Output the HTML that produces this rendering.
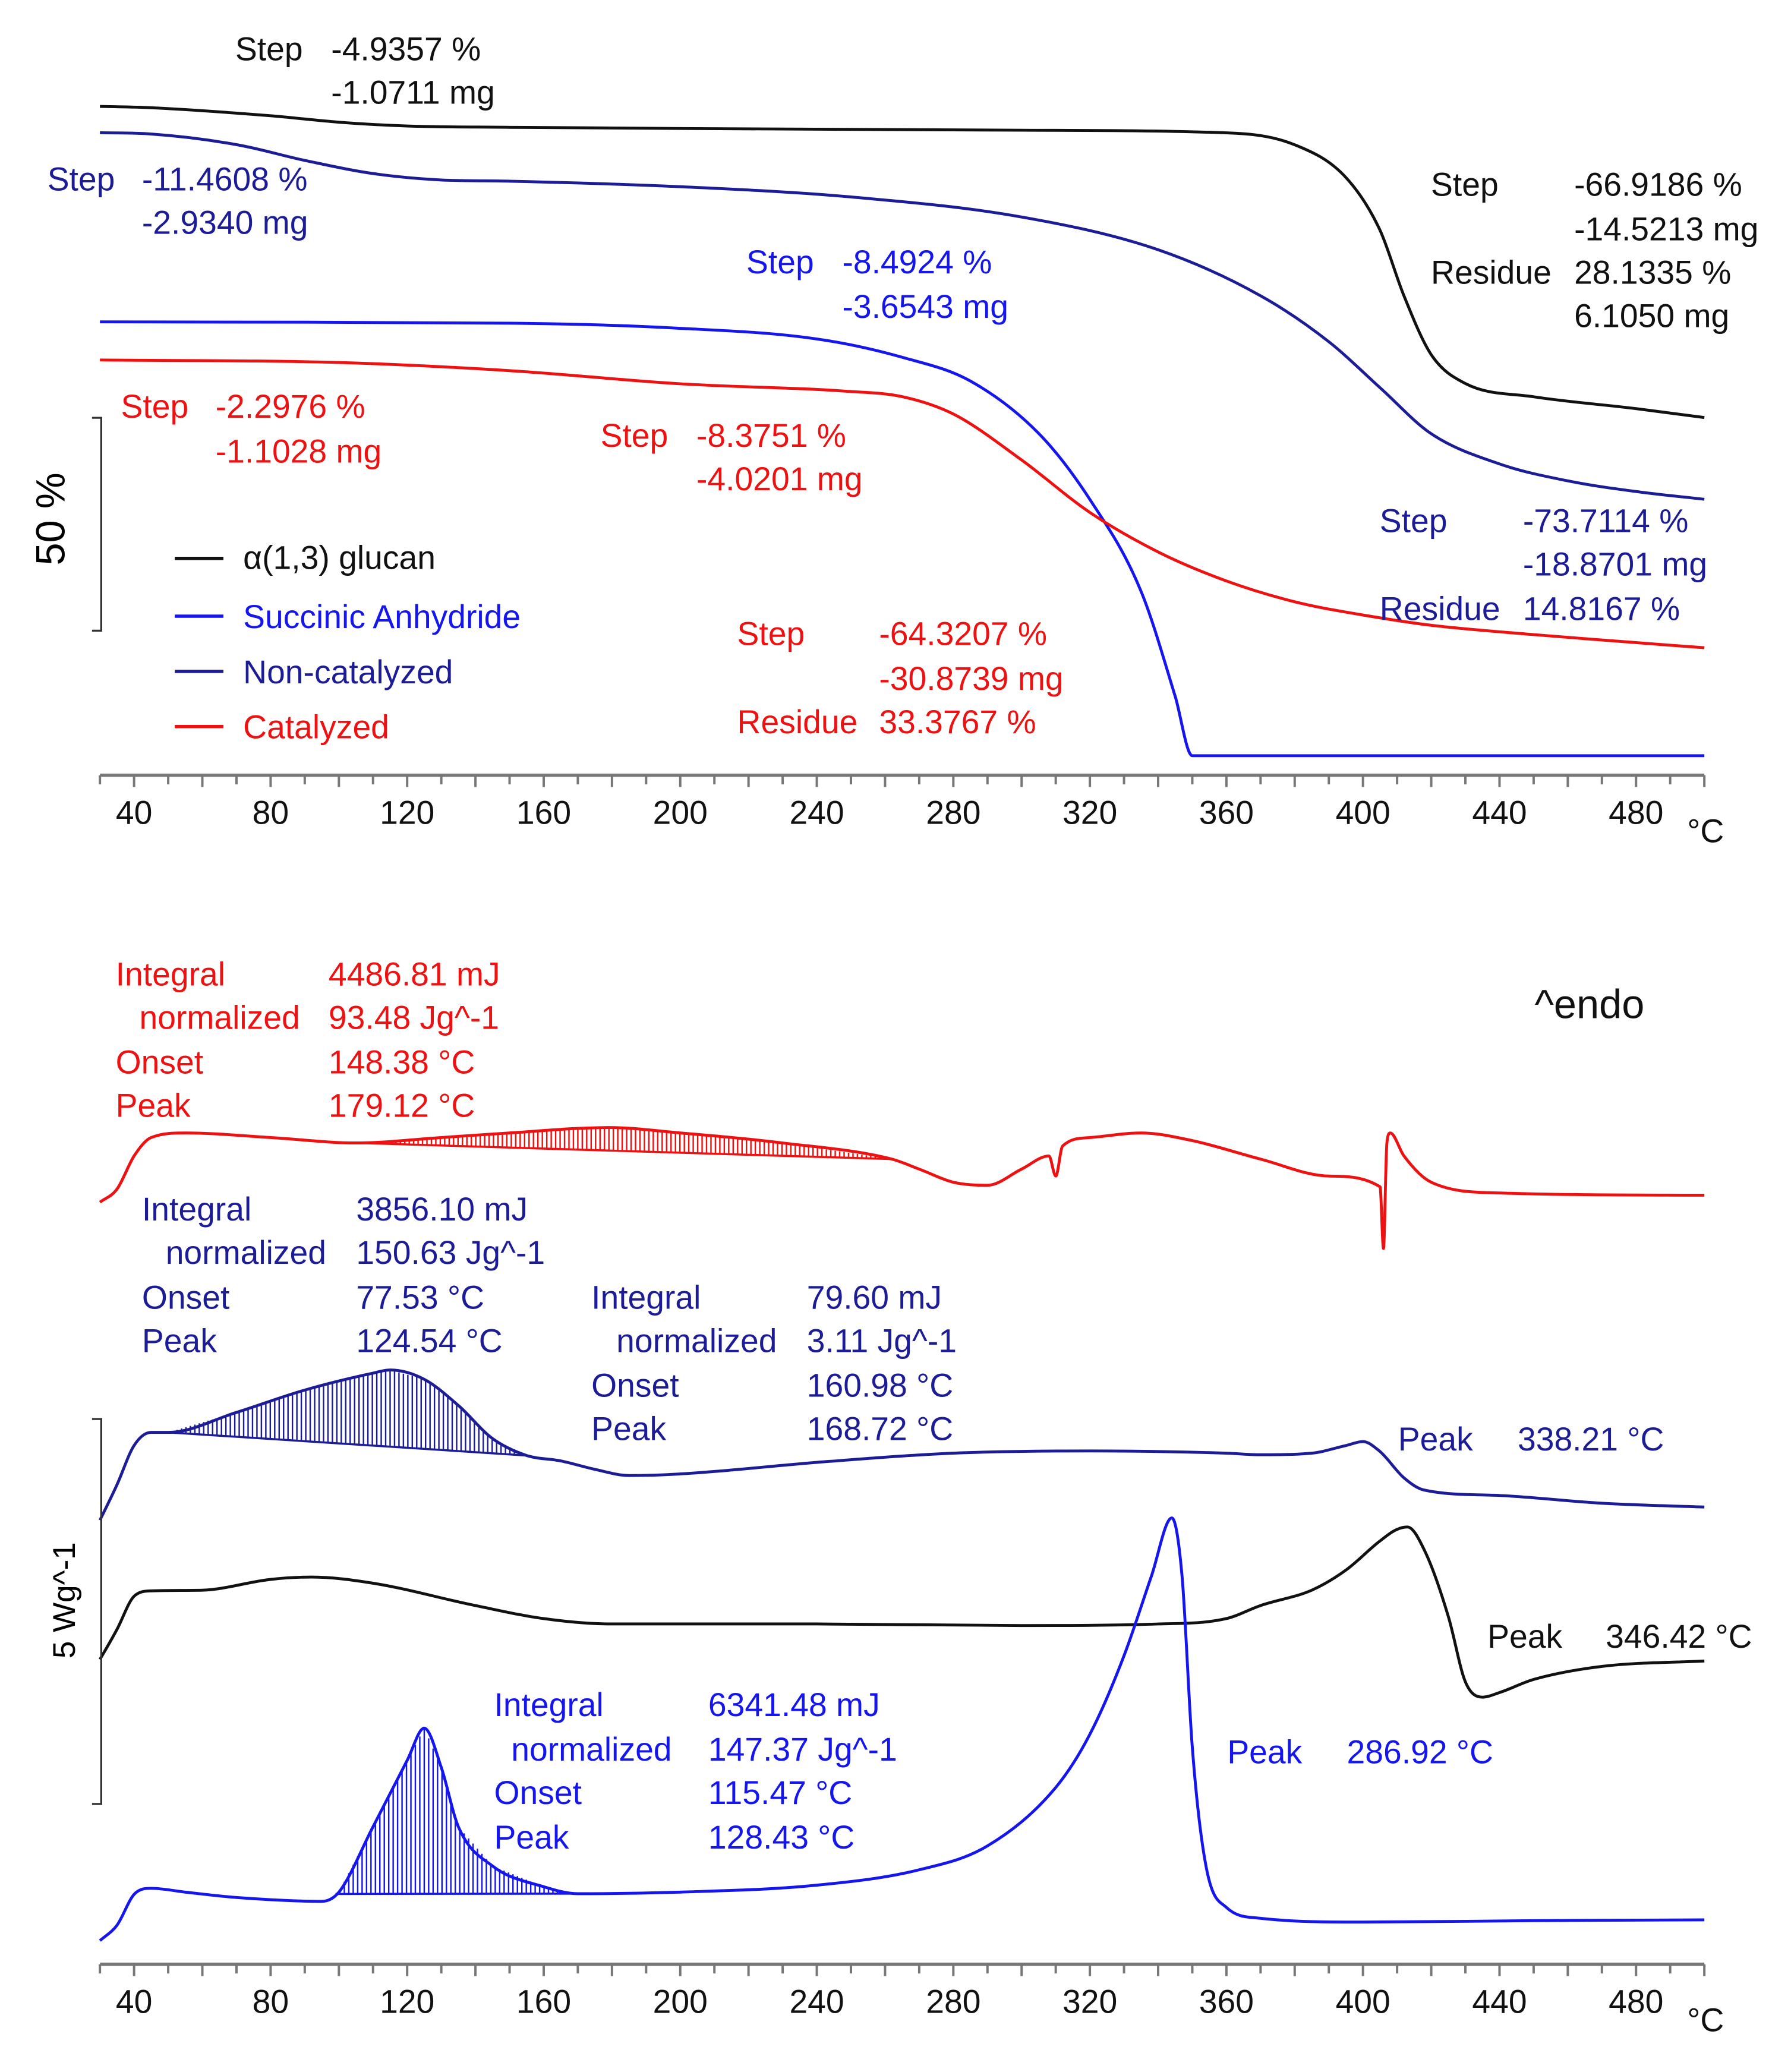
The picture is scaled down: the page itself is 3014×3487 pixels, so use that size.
<!DOCTYPE html>
<html><head><meta charset="utf-8"><style>
html,body{margin:0;padding:0;background:#fff}
svg{display:block}
text{font-family:"Liberation Sans",sans-serif;font-size:25px}
</style></head><body>
<svg id="chart" width="3014" height="3487" viewBox="0 0 1363 1577" xmlns="http://www.w3.org/2000/svg">
<g id="tga"></g>
<g id="dsc"></g>
<g id="labels">
<g fill="#111"><text x="179" y="46">Step</text><text x="252" y="46">-4.9357 %</text><text x="252" y="79">-1.0711 mg</text></g>
<g fill="#1c1c96"><text x="36" y="145">Step</text><text x="108" y="145">-11.4608 %</text><text x="108" y="178">-2.9340 mg</text></g>
<g fill="#111"><text x="1089" y="149">Step</text><text x="1198" y="149">-66.9186 %</text><text x="1198" y="183">-14.5213 mg</text><text x="1089" y="216">Residue</text><text x="1198" y="216">28.1335 %</text><text x="1198" y="249">6.1050 mg</text></g>
<g fill="#1515ee"><text x="568" y="208">Step</text><text x="641" y="208">-8.4924 %</text><text x="641" y="242">-3.6543 mg</text></g>
<g fill="#ee1111"><text x="92" y="318">Step</text><text x="164" y="318">-2.2976 %</text><text x="164" y="352">-1.1028 mg</text></g>
<g fill="#ee1111"><text x="457" y="340">Step</text><text x="530" y="340">-8.3751 %</text><text x="530" y="373">-4.0201 mg</text></g>
<g fill="#1c1c96"><text x="1050" y="405">Step</text><text x="1159" y="405">-73.7114 %</text><text x="1159" y="438">-18.8701 mg</text><text x="1050" y="472">Residue</text><text x="1159" y="472">14.8167 %</text></g>
<g fill="#ee1111"><text x="561" y="491">Step</text><text x="669" y="491">-64.3207 %</text><text x="669" y="525">-30.8739 mg</text><text x="561" y="558">Residue</text><text x="669" y="558">33.3767 %</text></g>
<g>
<line x1="133" y1="425" x2="170" y2="425" stroke="#111" stroke-width="2.5"/><text x="185" y="433" fill="#111">α(1,3) glucan</text>
<line x1="133" y1="469" x2="170" y2="469" stroke="#1515ee" stroke-width="2.5"/><text x="185" y="478" fill="#1515ee">Succinic Anhydride</text>
<line x1="133" y1="511" x2="170" y2="511" stroke="#1c1c96" stroke-width="2.5"/><text x="185" y="520" fill="#1c1c96">Non-catalyzed</text>
<line x1="133" y1="553" x2="170" y2="553" stroke="#ee1111" stroke-width="2.5"/><text x="185" y="562" fill="#ee1111">Catalyzed</text>
</g>
<text transform="translate(49,395) rotate(-90)" text-anchor="middle" style="font-size:31px">50 %</text>
<path d="M70,318 H77 V480 H70" fill="none" stroke="#333" stroke-width="1.5"/>
<g fill="#ee1111"><text x="88" y="750">Integral</text><text x="250" y="750">4486.81 mJ</text><text x="106" y="783">normalized</text><text x="250" y="783">93.48 Jg^-1</text><text x="88" y="817">Onset</text><text x="250" y="817">148.38 °C</text><text x="88" y="850">Peak</text><text x="250" y="850">179.12 °C</text></g>
<text x="1168" y="775" fill="#111" style="font-size:31px">^endo</text>
<g fill="#1c1c96"><text x="108" y="929">Integral</text><text x="271" y="929">3856.10 mJ</text><text x="126" y="962">normalized</text><text x="271" y="962">150.63 Jg^-1</text><text x="108" y="996">Onset</text><text x="271" y="996">77.53 °C</text><text x="108" y="1029">Peak</text><text x="271" y="1029">124.54 °C</text></g>
<g fill="#1c1c96"><text x="450" y="996">Integral</text><text x="614" y="996">79.60 mJ</text><text x="469" y="1029">normalized</text><text x="614" y="1029">3.11 Jg^-1</text><text x="450" y="1063">Onset</text><text x="614" y="1063">160.98 °C</text><text x="450" y="1096">Peak</text><text x="614" y="1096">168.72 °C</text></g>
<g fill="#1c1c96"><text x="1064" y="1104">Peak</text><text x="1155" y="1104">338.21 °C</text></g>
<g fill="#111"><text x="1132" y="1254">Peak</text><text x="1222" y="1254">346.42 °C</text></g>
<g fill="#1515ee"><text x="376" y="1306">Integral</text><text x="539" y="1306">6341.48 mJ</text><text x="389" y="1340">normalized</text><text x="539" y="1340">147.37 Jg^-1</text><text x="376" y="1373">Onset</text><text x="539" y="1373">115.47 °C</text><text x="376" y="1407">Peak</text><text x="539" y="1407">128.43 °C</text></g>
<g fill="#1515ee"><text x="934" y="1342">Peak</text><text x="1025" y="1342">286.92 °C</text></g>
<text transform="translate(57,1218) rotate(-90)" text-anchor="middle" style="font-size:24px">5 Wg^-1</text>
<path d="M70,1080 H77 V1373 H70" fill="none" stroke="#333" stroke-width="1.5"/>
</g>
</svg>
<script>
// ---- data ----
const tempTicks = [40,80,120,160,200,240,280,320,360,400,440,480];
// TGA mass % series (T, %)
const tgaGlucanT = [30,45,80,100,120,150,200,300,360,380,395,405,412,420,430,450,480,500];
const tgaGlucanV = [100,99.7,97.8,96.3,95.4,95.1,94.8,94.4,93.8,91.0,83.3,70.9,55.5,41.7,34.9,31.8,29.0,26.9];
const tgaNoncatT = [30,45,70,90,110,130,150,200,250,300,340,370,390,405,420,440,460,480,500];
const tgaNoncatV = [100,99.7,97.2,93.5,90.4,88.9,88.6,87.3,84.9,80.2,72.5,61.7,50.9,40.1,29.3,22.2,18.2,15.7,13.9];
const tgaSuccT = [30,150,200,240,265,285,305,320,335,345,350,360,500];
const tgaSuccV = [100,99.7,98.5,96.0,91.7,86.1,73.8,58.3,36.7,12.0,-1.9,-1.9,-1.9];
const tgaCatT = [30,100,150,200,250,265,280,300,320,340,360,380,400,420,450,480,500];
const tgaCatV = [100,99.4,97.5,94.4,92.6,91.4,87.3,76.5,64.2,54.9,48.1,43.2,40.1,37.7,35.5,33.6,32.4];
// DSC heat flow (W/g, relative to each curve's start)
const dscCatT = [30,35,40,45,55,80,105,130,150,179,200,230,262,270,280,290,300,308,310,312,320,335,350,370,390,405,406,407,408,412,420,440,500];
const dscCatV = [0,0.17,0.60,0.84,0.90,0.84,0.77,0.84,0.90,0.97,0.90,0.77,0.56,0.43,0.26,0.22,0.43,0.60,0.34,0.73,0.84,0.90,0.80,0.56,0.34,0.20,-0.60,0.77,0.90,0.60,0.26,0.12,0.09];
const dscNoncatT = [30,35,40,45,50,70,90,110,115,125,135,145,155,165,175,185,200,240,280,320,360,370,385,395,400,405,412,418,440,470,500];
const dscNoncatV = [0,0.46,0.97,1.14,1.14,1.40,1.69,1.91,1.95,1.83,1.49,1.06,0.84,0.77,0.66,0.58,0.60,0.75,0.87,0.90,0.87,0.85,0.87,0.97,1.02,0.89,0.55,0.39,0.32,0.22,0.17];
const dscGlucanT = [30,35,40,45,60,80,92,110,140,160,180,240,300,340,360,370,385,395,405,410,413,418,425,430,435,440,450,470,500];
const dscGlucanV = [0,0.39,0.82,0.89,0.90,1.04,1.07,0.99,0.70,0.53,0.46,0.46,0.44,0.46,0.53,0.70,0.90,1.16,1.54,1.69,1.72,1.42,0.56,-0.29,-0.49,-0.43,-0.26,-0.09,-0.02];
const dscSuccT = [30,35,40,45,55,70,95,100,110,120,125,130,135,145,160,170,200,240,270,290,310,320,330,338,344,347,350,354,360,370,400,450,500];
const dscSuccV = [0,0.20,0.60,0.68,0.63,0.56,0.51,0.63,1.48,2.34,2.76,2.25,1.48,0.97,0.70,0.61,0.63,0.72,0.92,1.23,1.99,2.68,3.70,4.73,5.49,4.73,2.51,0.97,0.43,0.29,0.24,0.26,0.27];

// ---- axes ----
const NS='http://www.w3.org/2000/svg';
const xT = t => 102 + (t-40)*2.598;
const PX_PER_PCT = 3.24, PX_PER_W = 58.6;
const yTga = base => v => base + (100-v)*PX_PER_PCT;
const yDsc = base => v => base - v*PX_PER_W;
function mk(tag, attrs, parent){const e=document.createElementNS(NS,tag);for(const k in attrs)e.setAttribute(k,attrs[k]);parent.appendChild(e);return e;}
function interp(T,V,t){for(let i=1;i<T.length;i++){if(t<=T[i]){const f=(t-T[i-1])/(T[i]-T[i-1]);return V[i-1]+f*(V[i]-V[i-1]);}}return V[V.length-1];}
// monotone cubic (Fritsch-Carlson) path, no overshoot
function pathD(T,V,fy){
  const X=T.map(xT), Y=V.map(fy), n=X.length;
  const d=[],m=new Array(n);
  for(let i=0;i<n-1;i++)d.push((Y[i+1]-Y[i])/(X[i+1]-X[i]));
  m[0]=d[0];m[n-1]=d[n-2];
  for(let i=1;i<n-1;i++){m[i]=(d[i-1]*d[i]<=0)?0:(d[i-1]+d[i])/2;}
  for(let i=0;i<n-1;i++){
    if(d[i]===0){m[i]=0;m[i+1]=0;continue;}
    const a=m[i]/d[i],b=m[i+1]/d[i],s=a*a+b*b;
    if(s>9){const t=3/Math.sqrt(s);m[i]=t*a*d[i];m[i+1]=t*b*d[i];}
  }
  let p='M'+X[0].toFixed(1)+','+Y[0].toFixed(1);
  for(let i=0;i<n-1;i++){
    const h=(X[i+1]-X[i])/3;
    p+=` C${(X[i]+h).toFixed(1)},${(Y[i]+m[i]*h).toFixed(1)} ${(X[i+1]-h).toFixed(1)},${(Y[i+1]-m[i+1]*h).toFixed(1)} ${X[i+1].toFixed(1)},${Y[i+1].toFixed(1)}`;
  }
  return p;
}
function axis(g,y,name){
  const a=mk('g',{},g);
  
  
  mk('line',{x1:xT(30),y1:y,x2:xT(500),y2:y,stroke:'#777','stroke-width':2.5},a);
  for(let t=30;t<=500;t+=10){mk('line',{x1:xT(t),y1:y,x2:xT(t),y2:y+(t%20===0?9:7),stroke:'#777','stroke-width':1.8},a);}
  tempTicks.forEach(t=>{const tx=mk('text',{x:xT(t),y:y+37,'text-anchor':'middle',fill:'#111'},a);tx.textContent=t;
    
    });
  const u=mk('text',{x:1284,y:y+51,fill:'#111'},a);u.textContent='°C';
  
  
}
function curve(g,T,V,fy,color,name){
  const p=mk('path',{d:pathD(T,V,fy),fill:'none',stroke:color,'stroke-width':2.2,'stroke-linejoin':'round'},g);
  
  
}
function hatch(g,T,V,fy,t1,t2,color,name){
  const h=mk('g',{stroke:color,'stroke-width':1.1},g);
  
  
  const v1=interp(T,V,t1),v2=interp(T,V,t2);
  mk('line',{x1:xT(t1),y1:fy(v1),x2:xT(t2),y2:fy(v2),'stroke-width':1.6},h);
  for(let t=t1;t<=t2;t+=1.3){const b=v1+(v2-v1)*(t-t1)/(t2-t1);mk('line',{x1:xT(t),y1:fy(b),x2:xT(t),y2:fy(interp(T,V,t))},h);}
}
const tga=document.getElementById('tga'), dsc=document.getElementById('dsc');
axis(tga,590,'tga-x-axis'); axis(dsc,1495,'dsc-x-axis');
curve(tga,tgaGlucanT,tgaGlucanV,yTga(81),'#111','tga-glucan-curve');
curve(tga,tgaNoncatT,tgaNoncatV,yTga(101),'#1c1c96','tga-noncatalyzed-curve');
curve(tga,tgaSuccT,tgaSuccV,yTga(245),'#1515ee','tga-succinic-curve');
curve(tga,tgaCatT,tgaCatV,yTga(274),'#ee1111','tga-catalyzed-curve');
hatch(dsc,dscCatT,dscCatV,yDsc(915),105,262,'#ee1111','cat-integral-area');
hatch(dsc,dscNoncatT,dscNoncatV,yDsc(1157),50,155,'#1c1c96','noncat-integral-area-1');
hatch(dsc,dscSuccT,dscSuccV,yDsc(1477),99,170,'#1515ee','succinic-integral-area');
curve(dsc,dscCatT,dscCatV,yDsc(915),'#ee1111','dsc-catalyzed-curve');
curve(dsc,dscNoncatT,dscNoncatV,yDsc(1157),'#1c1c96','dsc-noncatalyzed-curve');
curve(dsc,dscGlucanT,dscGlucanV,yDsc(1263),'#111','dsc-glucan-curve');
curve(dsc,dscSuccT,dscSuccV,yDsc(1477),'#1515ee','dsc-succinic-curve');
</script>
</body></html>
